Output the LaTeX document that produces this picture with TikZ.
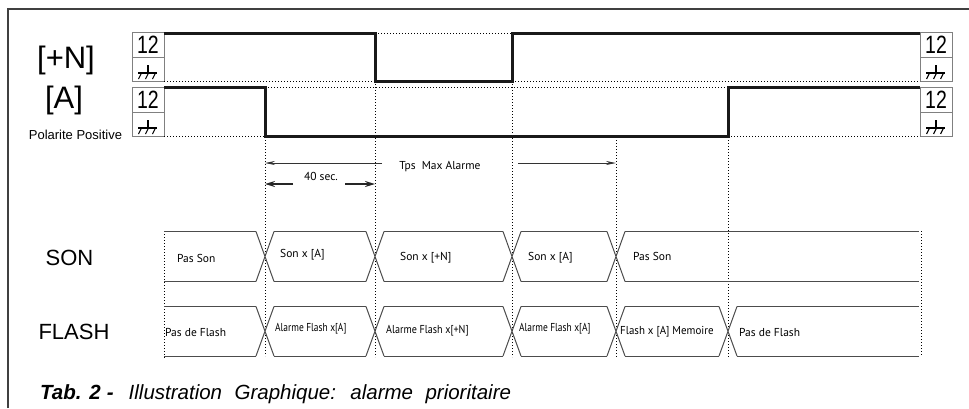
\documentclass[tikz,border=0pt]{standalone}
\usepackage{fontspec}
\setmainfont{Liberation Sans}
\newfontfamily\gill{PT Sans}
\usetikzlibrary{arrows.meta}
\begin{document}
\begin{tikzpicture}[x=1pt,y=-1pt,
  sig/.style={line width=3pt, color=black!90, line join=miter},
  dotln/.style={line width=1pt, dash pattern=on 1pt off 2pt},
  tbox/.style={draw=black!50, line width=1pt},
  gnd/.style={line width=1.1pt, black},
  seg/.style={draw=black!70, line width=1pt},
  lbl/.style={inner sep=0pt},
  stxt/.style={inner sep=0pt, anchor=west, font=\gill\fontsize{11.5}{12}\selectfont},
  ctxt/.style={inner sep=0pt, font=\gill\fontsize{11.5}{12}\selectfont},
  thinarr/.style={line width=0.9pt, black!80, -{Stealth[length=10pt,width=4pt]}},
  boldarr/.style={line width=2pt, black!85, -{Stealth[length=10pt,width=6pt]}},
]
\useasboundingbox (0,0) rectangle (969,408);
% frame
\draw[line width=1.5pt, black!75] (8,408) -- (8,9) -- (969,9);

% level boxes
\foreach \bx in {132,920}{
  \foreach \by in {32,87}{
    \draw[tbox] (\bx,\by) rectangle ({\bx+32},{\by+49});
    \draw[tbox] (\bx,{\by+25}) -- ({\bx+32},{\by+25});
    \node[lbl, anchor=base, font=\fontsize{25}{25}\selectfont] at ({\bx+16},{\by+21}) {\scalebox{0.78}[1]{12}};
    \draw[gnd] ({\bx+6},{\by+41}) -- ({\bx+25},{\by+41});
    \draw[gnd] ({\bx+16},{\by+33}) -- ({\bx+16},{\by+41});
    \foreach \k in {0,7,14}{
      \draw[gnd] ({\bx+9.5+\k},{\by+41}) -- ({\bx+6.5+\k},{\by+47});
    }
  }
}

% labels
\node[lbl, font=\fontsize{31}{31}\selectfont] (lN) at (66,60) {[+N]};
\node[lbl, font=\fontsize{31}{31}\selectfont] (lA) at (64,100) {[A]};
\node[lbl, font=\fontsize{13}{13}\selectfont] (lP) at (75.5,134.5) {Polarite Positive};
\node[lbl, font=\fontsize{22}{22}\selectfont] (lS) at (69.5,257.5) {SON};
\node[lbl, font=\fontsize{22}{22}\selectfont] (lF) at (74,331.5) {FLASH};

% dotted guides
\draw[dotln] (164,81) -- (375,81);
\draw[dotln] (512,81) -- (920,81);
\draw[dotln] (375,33) -- (512,33);
\draw[dotln] (265,87.5) -- (728,87.5);
\draw[dotln] (164,136.5) -- (265,136.5);
\draw[dotln] (728,136.5) -- (920,136.5);
\draw[dotln] (265,137) -- (265,356);
\draw[dotln] (375,81) -- (375,357);
\draw[dotln] (512,81) -- (512,357);
\draw[dotln] (616,137) -- (616,357);
\draw[dotln] (728,137) -- (728,357);
\draw[dotln] (164,231) -- (164,358);
\draw[dotln] (921,231) -- (921,356);

% signals
\draw[sig] (164,33) -- (375,33) -- (375,81) -- (512,81) -- (512,33) -- (920,33);
\draw[sig] (164,87.5) -- (265,87.5) -- (265,136.5) -- (728,136.5) -- (728,87.5) -- (920,87.5);

% durations
\coordinate (a1) at (265,163);
\coordinate (a2) at (616,163);
\coordinate (b1) at (265,184);
\coordinate (b2) at (375,184);
\node[ctxt] (tps) at (440,167) {Tps\ \ Max Alarme};
\node[ctxt] (sec) at (321,176) {40 sec.};
\draw[thinarr] (382,163) -- (a1);
\draw[thinarr] (518,163) -- (a2);
\draw[boldarr] (293,184) -- (b1);
\draw[boldarr] (345,184) -- (b2);

% SON row
\def\sT{231.5}\def\sB{281.5}
\draw[seg] (164,\sT) -- (256,\sT) (274,\sT) -- (366,\sT) (384,\sT) -- (503,\sT) (521,\sT) -- (607,\sT) (625,\sT) -- (919,\sT);
\draw[seg] (164,\sB) -- (256,\sB) (274,\sB) -- (366,\sB) (384,\sB) -- (503,\sB) (521,\sB) -- (607,\sB) (625,\sB) -- (919,\sB);
\foreach \t in {265,375,512,616}{
  \draw[seg] ({\t-9},\sT) -- ({\t+9},\sB) ({\t-9},\sB) -- ({\t+9},\sT);
}
\node[stxt] (s1) at (177,258) {Pas Son};
\node[stxt] (s2) at (280,255) {Son x [A]};
\node[stxt] (s3) at (400,258) {Son x [+N]};
\node[stxt] (s4) at (528,258) {Son x [A]};
\node[stxt] (s5) at (633,256) {Pas Son};

% FLASH row
\def\fT{306.5}\def\fB{356}
\draw[seg] (164,\fT) -- (256,\fT) (274,\fT) -- (366,\fT) (384,\fT) -- (503,\fT) (521,\fT) -- (607,\fT) (625,\fT) -- (719,\fT) (737,\fT) -- (919,\fT);
\draw[seg] (164,\fB) -- (256,\fB) (274,\fB) -- (366,\fB) (384,\fB) -- (503,\fB) (521,\fB) -- (607,\fB) (625,\fB) -- (719,\fB) (737,\fB) -- (919,\fB);
\foreach \t in {265,375,512,616,728}{
  \draw[seg] ({\t-9},\fT) -- ({\t+9},\fB) ({\t-9},\fB) -- ({\t+9},\fT);
}
\node[stxt] (f1) at (165,332) {Pas de Flash};
\node[stxt] (f2) at (275,329) {\scalebox{0.82}[1]{Alarme Flash x[A]}};
\node[stxt] (f3) at (386,331) {\scalebox{0.88}[1]{Alarme Flash x[+N]}};
\node[stxt] (f4) at (519,329) {\scalebox{0.82}[1]{Alarme Flash x[A]}};
\node[stxt] (f5) at (620,332) {\scalebox{0.95}[1]{Flash x [A] Memoire}};
\node[stxt] (f6) at (739,332) {Pas de Flash};

% caption
\node[lbl, anchor=base west, font=\fontsize{20.5}{22}\selectfont\itshape] (cap) at (40,399)
  {\spaceskip=6pt\textbf{Tab. 2 -}\hspace{15pt}\spaceskip=12.5pt Illustration Graphique: alarme prioritaire};
\end{tikzpicture}
\end{document}
